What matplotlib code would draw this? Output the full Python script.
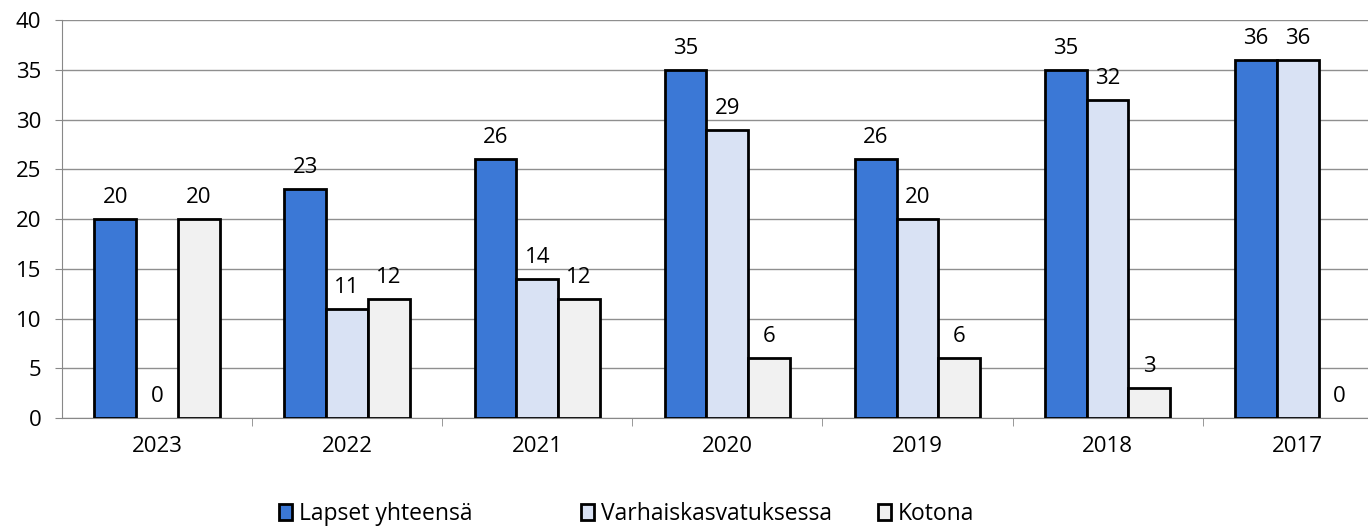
import matplotlib.pyplot as plt
from matplotlib.patches import Patch
import numpy as np

# datos
vuodet = ['2023', '2022', '2021', '2020', '2019', '2018', '2017']
lapset = [20, 23, 26, 35, 26, 35, 36]
varhais = [0, 11, 14, 29, 20, 32, 36]
kotona = [20, 12, 12, 6, 6, 3, 0]

sarjat = ['Lapset yhteensä', 'Varhaiskasvatuksessa', 'Kotona']
varit = ['#3b78d6', '#d9e2f4', '#f1f1f1']

plt.rcParams['font.family'] = ['Open Sans', 'DejaVu Sans']

fig = plt.figure(figsize=(13.68, 5.32), dpi=100)
ax = fig.add_axes([0.0453, 0.214, 0.9547, 0.748])

x = np.arange(len(vuodet))
w = 0.22
for i, (arvot, nimi, vari) in enumerate(zip([lapset, varhais, kotona], sarjat, varit)):
    pos = x + (i - 1) * w
    palkit = ax.bar(pos, arvot, width=w, color=vari, edgecolor='black',
                    linewidth=2, zorder=3)
    for p, v in zip(pos, arvot):
        ax.annotate(str(v), (p, v), xytext=(0, 8), textcoords='offset points',
                    ha='center', va='bottom', fontsize=16)

# nollan korkuiset palkit ilman reunaviivaa
for patch in ax.patches:
    if patch.get_height() == 0:
        patch.set_linewidth(0)

ax.set_ylim(0, 40)
ax.set_yticks(range(0, 41, 5))
ax.set_xlim(-0.5, 6.37)
ax.set_xticks(x)
ax.set_xticklabels(vuodet)
ax.set_xticks(np.arange(0.5, 6.5, 1), minor=True)
ax.tick_params(axis='x', which='major', length=0, pad=13, labelsize=16)
ax.tick_params(axis='x', which='minor', length=6, color='#888888', direction='out')
ax.tick_params(axis='y', length=5, color='#888888', labelsize=16, pad=10)

ax.grid(axis='y', color='#8f8f8f', linewidth=1, zorder=0)
for s in ['top', 'right']:
    ax.spines[s].set_visible(False)
ax.spines['left'].set_color('#888888')
ax.spines['bottom'].set_color('#888888')

paikat = [0.204, 0.425, 0.642]
for n, vari, px in zip(sarjat, varit, paikat):
    k = Patch(facecolor=vari, edgecolor='black', linewidth=2)
    fig.legend([k], [n], loc='center left', bbox_to_anchor=(px, 0.033),
               frameon=False, fontsize=16.5, handlelength=0.55, handleheight=0.7,
               handletextpad=0.3, borderpad=0, borderaxespad=0)

plt.savefig('out.png', dpi=100)
